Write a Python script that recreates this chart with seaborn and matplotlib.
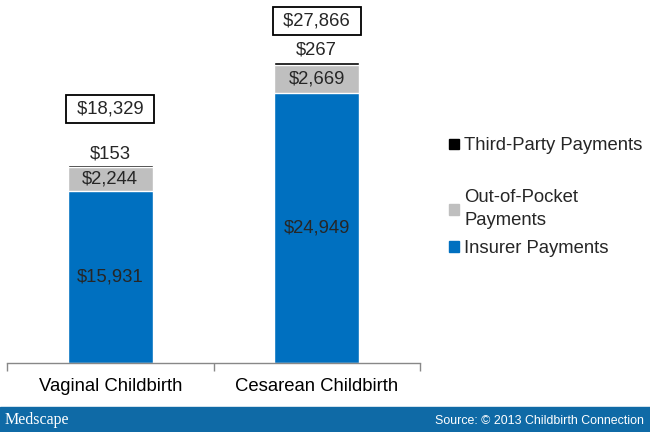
import numpy as np
import pandas as pd
import matplotlib
matplotlib.use('Agg')
import matplotlib.pyplot as plt
from matplotlib.patches import Rectangle, Patch
import seaborn as sns

# data
categories = ['Vaginal Childbirth', 'Cesarean Childbirth']
insurer = [15931, 24949]
out_of_pocket = [2244, 2669]
third_party = [153, 267]
totals = [18329, 27866]

colors = {'Third-Party Payments': '#000000',
          'Out-of-Pocket\nPayments': '#bfbfbf',
          'Insurer Payments': '#0070c0'}

sns.set_theme(style='white')
plt.rcParams['font.family'] = ['Liberation Sans', 'DejaVu Sans']
fs = 13.3

df = pd.DataFrame({'cat': categories,
                   'ins': insurer,
                   'oop': np.array(insurer) + np.array(out_of_pocket),
                   'tot': np.array(insurer) + np.array(out_of_pocket) + np.array(third_party)})

fig = plt.figure(figsize=(6.5, 4.32), dpi=100)
ax = fig.add_axes([7/650, 69/432, 413/650, 343/432])

w = 0.41
sns.barplot(data=df, x='cat', y='tot', color='#000000', width=w, ax=ax, saturation=1)
sns.barplot(data=df, x='cat', y='oop', color='#bfbfbf', width=w, ax=ax, saturation=1)
sns.barplot(data=df, x='cat', y='ins', color='#0070c0', width=w, ax=ax, saturation=1)

ax.set_xlim(-0.5, 1.5)
ax.set_ylim(0, 31750)
ax.set_xlabel('')
ax.set_ylabel('')
ax.set_yticks([])
ax.tick_params(axis='x', which='major', length=0, labelsize=fs, pad=11, labelcolor='black')
ax.set_xticks([-0.5, 0.5, 1.5], minor=True)
ax.tick_params(axis='x', which='minor', length=6, color='#888888', width=1, bottom=True)
for s in ['top', 'left', 'right']:
    ax.spines[s].set_visible(False)
ax.spines['bottom'].set_color('#888888')
ax.spines['bottom'].set_linewidth(1)

box_offsets = [34, 23]
for i in range(len(categories)):
    ax.text(i, insurer[i] / 2, f'${insurer[i]:,}', ha='center', va='center', fontsize=fs)
    ax.text(i, insurer[i] + out_of_pocket[i] / 2, f'${out_of_pocket[i]:,}',
            ha='center', va='center', fontsize=fs)
    top = insurer[i] + out_of_pocket[i] + third_party[i]
    ax.annotate(f'${third_party[i]:,}', (i, top), xytext=(0, 2), textcoords='offset points',
                ha='center', va='bottom', fontsize=fs)
    ax.annotate(f' ${totals[i]:,} ', (i, top), xytext=(0, box_offsets[i]), textcoords='offset points',
                ha='center', va='bottom', fontsize=fs,
                bbox=dict(boxstyle='square,pad=0.3', fc='white', ec='black', lw=1.3))

# legend, split in two blocks like the original
names = list(colors.keys())
h1 = [Patch(color=colors[names[0]])]
h2 = [Patch(color=colors[n]) for n in names[1:]]
kw = dict(frameon=False, fontsize=fs, handlelength=0.5, handleheight=0.5,
          handletextpad=0.3, loc='upper left', borderaxespad=0)
fig.legend(h1, names[:1], bbox_to_anchor=(442/650, 1 - 130/432), **kw)
leg2 = fig.legend(h2, names[1:], bbox_to_anchor=(442/650, 1 - 182/432), labelspacing=0.6, **kw)
for t in leg2.get_texts():
    t.set_linespacing(1.45)

# footer band
fig.patches.append(Rectangle((0, 0), 1, 25/432, transform=fig.transFigure,
                             color='#0f6aa6', zorder=0))
fig.text(5/650, 12/432, 'Medscape', color='white', fontsize=11.5,
         family=['Liberation Serif', 'DejaVu Serif'], va='center', ha='left')
fig.text(644/650, 11/432, 'Source: \u00a9 2013 Childbirth Connection', color='white',
         fontsize=8.9, va='center', ha='right')

fig.savefig('out.png', dpi=100)
